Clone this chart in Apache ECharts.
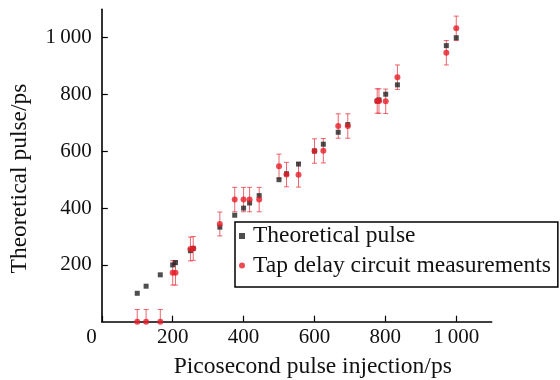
<!DOCTYPE html>
<html><head><meta charset="utf-8">
<script src="https://cdn.jsdelivr.net/npm/echarts@6/dist/echarts.min.js"></script>
<style>html,body{margin:0;padding:0;background:#fff}#c{width:560px;height:380px}</style>
</head><body><div id="c"></div>
<script>
const injection   = [100,125,165,200,208,250,258,333,375,400,417,444,500,521,555,600,625,667,694,777,782,801,834,972,1000];
const theoretical = [100,125,165,200,208,250,258,333,375,400,418,444,500,521,555,601,625,667,694,777,781,801,834,972,1000];
const measured    = [0,0,0,172,172,256,258,344,430,430,430,430,547,518,517,601,602,689,689,777,777,776,861,947,1033];
const measuredErr = [43,43,43,43,43,42,42,42,43,43,43,43,43,43,43,43,43,43,43,43,43,43,43,43,43];
const tickValues  = [0,200,400,600,800,1000];
const tickLabels  = ['0','200','400','600','800','1\u2009000'];

const FONT = 'Liberation Serif';
const RED = '#e61e28';
const ERR = 'rgba(232,50,60,0.75)';
function fmt(v){ const i = tickValues.indexOf(v); return i < 0 ? '' : tickLabels[i]; }

const chart = echarts.init(document.getElementById('c'), null, {renderer:'canvas'});
chart.setOption({
  animation:false,
  backgroundColor:'#fff',
  grid:{left:101.8, right:68.3, top:9.3, bottom:58.3, containLabel:false, outerBoundsMode:'none'},
  legend:{
    orient:'vertical', left:235, top:222,
    data:[{name:'Theoretical pulse', icon:'rect'},{name:'Tap delay circuit measurements', icon:'circle'}],
    itemWidth:6, itemHeight:6, itemGap:5.6,
    padding:[2,7,9.5,4],
    borderColor:'#000', borderWidth:1.5, backgroundColor:'#fff',
    textStyle:{fontFamily:FONT, fontSize:23.5, color:'#111', lineHeight:24, padding:[0,0,0,3]}
  },
  xAxis:{
    type:'value', min:0, max:1100, interval:200,
    axisLine:{lineStyle:{color:'#000', width:1.6}},
    axisTick:{inside:true, length:6, lineStyle:{color:'#000', width:1.2}},
    splitLine:{show:false},
    axisLabel:{margin:5, fontFamily:FONT, fontSize:21, color:'#111', showMaxLabel:false, alignMinLabel:'right',
      formatter:v => v === 0 ? '{z|0}' : fmt(v),
      rich:{z:{fontFamily:FONT, fontSize:21, color:'#111', padding:[0,5,0,0]}}},
    name:'Picosecond pulse injection/ps', nameLocation:'middle', nameGap:33,
    nameTextStyle:{fontFamily:FONT, fontSize:23.5, color:'#111', padding:[0,0,0,32]}
  },
  yAxis:{
    type:'value', min:0, max:1100, interval:200,
    axisLine:{lineStyle:{color:'#000', width:1.6}},
    axisTick:{inside:true, length:6, lineStyle:{color:'#000', width:1.2}},
    splitLine:{show:false},
    axisLabel:{margin:10, fontFamily:FONT, fontSize:21, color:'#111', showMinLabel:false, showMaxLabel:false, formatter:fmt},
    name:'Theoretical pulse/ps', nameLocation:'middle', nameGap:70,
    nameTextStyle:{fontFamily:FONT, fontSize:23.5, color:'#111', padding:[0,26,0,0]}
  },
  series:[
    {
      type:'custom', name:'err', silent:true, clip:true, z:1,
      data: injection.map((x,i) => [x, measured[i], measuredErr[i]]),
      renderItem(params, api){
        const x = api.value(0), y = api.value(1), e = api.value(2);
        const t = api.coord([x, y + e]), b = api.coord([x, y - e]);
        const w = 2.5, st = {stroke:ERR, lineWidth:1};
        return {type:'group', children:[
          {type:'line', shape:{x1:t[0], y1:t[1], x2:b[0], y2:b[1]}, style:st},
          {type:'line', shape:{x1:t[0]-w, y1:t[1], x2:t[0]+w, y2:t[1]}, style:st},
          {type:'line', shape:{x1:b[0]-w, y1:b[1], x2:b[0]+w, y2:b[1]}, style:st}
        ]};
      }
    },
    {
      type:'scatter', name:'Theoretical pulse', symbol:'rect', symbolSize:5, z:2,
      itemStyle:{color:'#222'},
      data: injection.map((x,i) => [x, theoretical[i]])
    },
    {
      type:'scatter', name:'Tap delay circuit measurements', symbol:'circle', symbolSize:6, z:3,
      itemStyle:{color:RED},
      data: injection.map((x,i) => [x, measured[i]])
    }
  ]
});
</script></body></html>
